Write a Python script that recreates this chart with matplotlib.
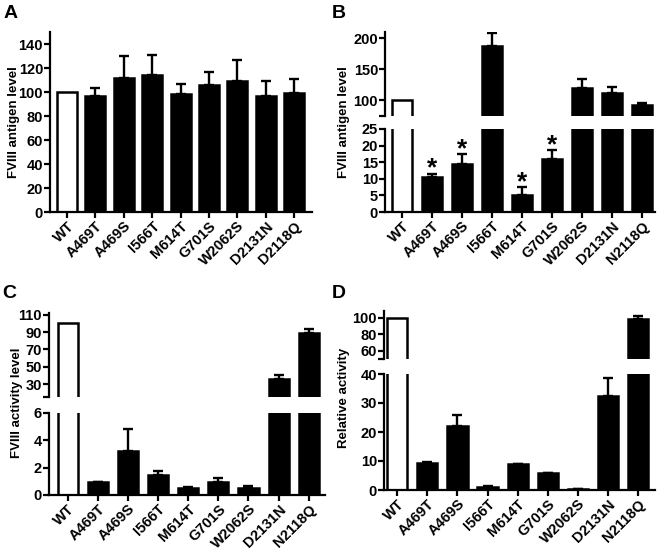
import matplotlib

matplotlib.use('Agg')
import numpy as np
import matplotlib.pyplot as plt

plt.rcParams['font.family'] = ['Liberation Sans', 'DejaVu Sans']
plt.rcParams['font.weight'] = 'bold'
plt.rcParams['axes.linewidth'] = 1.6

W, H = 663, 554

# panel data (mean, upper error length)
labels_a = ['WT', 'A469T', 'A469S', 'I566T', 'M614T', 'G701S', 'W2062S', 'D2131N', 'D2118Q']
labels_bcd = ['WT', 'A469T', 'A469S', 'I566T', 'M614T', 'G701S', 'W2062S', 'D2131N', 'N2118Q']

antigen_a = [100, 97, 112, 114, 98, 106, 109, 97, 99]
antigen_a_err = [0, 6, 18, 17, 9, 11, 18, 12, 12]

antigen_b = [100, 10.5, 14.5, 188, 5.2, 16, 120, 112, 92]
antigen_b_err = [0, 1.0, 3.0, 20, 2.3, 2.7, 14, 9, 4]
signif_b = [False, True, True, False, True, True, False, False, False]

activity_c = [100, 0.95, 3.2, 1.45, 0.5, 0.95, 0.5, 36, 89]
activity_c_err = [0, 0.0, 1.65, 0.27, 0.05, 0.27, 0.15, 4, 4]

relative_d = [100, 9.2, 22, 1.2, 9.1, 5.7, 0.5, 32.5, 98]
relative_d_err = [0, 0.4, 4, 0.3, 0.0, 0.0, 0.0, 6, 4]

TICK_FS = 10.5

fig = plt.figure(figsize=(W / 100, H / 100), dpi=100)


def add_ax(left, right, top, bottom):
    return fig.add_axes([left / W, 1 - bottom / H, (right - left) / W, (bottom - top) / H])


def draw_bars(ax, vals, errs, xlim, width):
    x = np.arange(len(vals))
    colors = ['white'] + ['black'] * (len(vals) - 1)
    ax.bar(x, vals, width=width, color=colors, edgecolor='black', linewidth=1.8, zorder=2)
    ax.errorbar(x[1:], vals[1:], yerr=[np.zeros(len(vals) - 1), errs[1:]], fmt='none',
                ecolor='black', elinewidth=1.7, capsize=3.8, capthick=1.7, zorder=3)
    ax.set_xlim(*xlim)
    for s in ['top', 'right']:
        ax.spines[s].set_visible(False)
    ax.tick_params(axis='y', direction='out', length=4, width=1.6, labelsize=TICK_FS, pad=1)
    ax.tick_params(axis='x', direction='out', length=4, width=1.6, labelsize=TICK_FS, pad=1)
    return x


def set_xlabels(ax, x, labels):
    ax.set_xticks(x)
    ax.set_xticklabels(labels, rotation=45, ha='right', rotation_mode='anchor', fontweight='bold')


def yticks(ax, ticks, labels):
    ax.set_yticks(ticks)
    ax.set_yticklabels(labels, fontweight='bold')


def broken(left, right, top_box, bot_box, vals, errs, xlim, width, top_lim, bot_lim,
           top_ticks, bot_ticks, labels):
    ax_t = add_ax(left, right, *top_box)
    ax_b = add_ax(left, right, *bot_box)
    draw_bars(ax_t, vals, errs, xlim, width)
    x = draw_bars(ax_b, vals, errs, xlim, width)
    ax_t.set_ylim(*top_lim)
    ax_b.set_ylim(*bot_lim)
    ax_t.spines['bottom'].set_visible(False)
    ax_t.set_xticks([])
    yticks(ax_t, [top_lim[0]] + top_ticks, [''] + [str(t) for t in top_ticks])
    yticks(ax_b, bot_ticks, [str(t) for t in bot_ticks])
    set_xlabels(ax_b, x, labels)
    return ax_t, ax_b


# Panel A
ax_a = add_ax(50, 312, 32, 212)
x = draw_bars(ax_a, antigen_a, antigen_a_err, (-0.6, 8.63), 0.7)
ax_a.set_ylim(0, 150)
yticks(ax_a, list(range(0, 141, 20)), [str(t) for t in range(0, 141, 20)])
set_xlabels(ax_a, x, labels_a)

# Panel B
bt, bb = broken(385, 655, (32, 116), (129, 212), antigen_b, antigen_b_err, (-0.56, 8.44), 0.67,
                (75, 210), (0, 25), [100, 150, 200], [0, 5, 10, 15, 20, 25], labels_bcd)
for i, (v, e, s) in enumerate(zip(antigen_b, antigen_b_err, signif_b)):
    if s:
        bb.annotate('*', (i, v + e), xytext=(0, -5), textcoords='offset points',
                    ha='center', va='bottom', fontsize=19, fontweight='bold')

# Panel C
broken(49, 325, (313, 397), (413, 495), activity_c, activity_c_err, (-0.62, 8.54), 0.67,
       (15, 112), (0, 6), [30, 50, 70, 90, 110], [0, 2, 4, 6], labels_bcd)

# Panel D
broken(384, 655, (311, 359), (374, 490), relative_d, relative_d_err, (-0.44, 8.56), 0.67,
       (50, 108), (0, 40), [60, 80, 100], [0, 10, 20, 30, 40], labels_bcd)

# y labels and panel letters
ylabs = [(14, 122, 'FVIII antigen level'), (344, 122, 'FVIII antigen level'),
         (17, 403, 'FVIII activity level'), (344, 398, 'Relative activity')]
for px, py, t in ylabs:
    fig.text(px / W, 1 - py / H, t, rotation=90, ha='center', va='center',
             fontsize=9.5, fontweight='bold')

for px, py, t in [(4, 13, 'A'), (332, 13, 'B'), (2, 293, 'C'), (332, 293, 'D')]:
    fig.text(px / W, 1 - py / H, t, ha='left', va='center', fontsize=14, fontweight='bold')

fig.savefig('out.png', dpi=100)
